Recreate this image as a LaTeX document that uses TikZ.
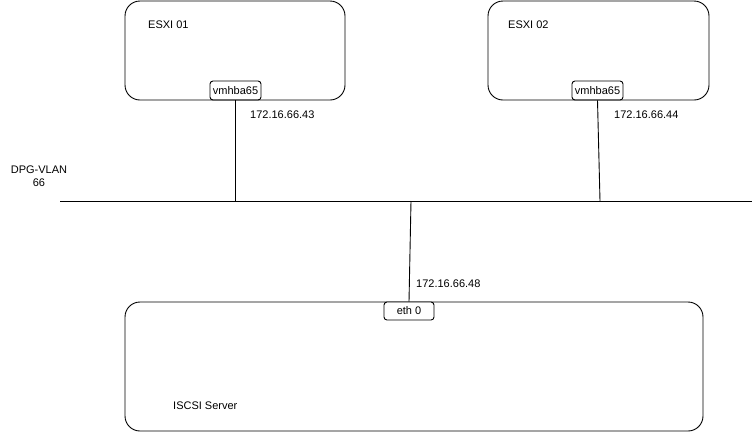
\documentclass[tikz,border=0pt]{standalone}
\usepackage{fontspec}
\setmainfont{Liberation Sans}
\begin{document}
\begin{tikzpicture}[x=1pt,y=-1pt,
  bigbox/.style={draw, line width=0.9pt, rounded corners=15pt, inner sep=0pt},
  portbox/.style={draw, line width=0.9pt, rounded corners=3pt, inner sep=0pt, font=\fontsize{11}{13}\selectfont},
  lbl/.style={inner sep=0pt, font=\fontsize{11}{13}\selectfont},
  wire/.style={line width=0.9pt}]
\useasboundingbox (0,0) rectangle (752,432);
% boxes
\node[bigbox, minimum width=220pt, minimum height=99pt] (esx1) at (235,50.5) {};
\node[bigbox, minimum width=221pt, minimum height=99pt] (esx2) at (598.5,50.5) {};
\node[bigbox, minimum width=578pt, minimum height=129pt] (iscsi) at (414,366.5) {};
\node[portbox, minimum width=51pt, minimum height=19pt] (vm1) at (235.5,90.5) {vmhba65};
\node[portbox, minimum width=51pt, minimum height=19pt] (vm2) at (597.5,90.5) {vmhba65};
\node[portbox, fill=white, minimum width=50pt, minimum height=18pt] (eth) at (409,311) {eth 0};
% bus
\coordinate (busL) at (60,201);
\coordinate (busR) at (752,201);
\coordinate (j1) at (235.5,201);
\coordinate (j2) at (600,201);
\coordinate (j3) at (411,201);
\draw[wire] (busL) -- (busR);
\draw[wire] (vm1.south) -- (j1);
\draw[wire] (vm2.south) -- (j2);
\draw[wire] (eth.north) -- (j3);
% labels
\node[lbl, anchor=west] (l1) at (148,25) {ESXI 01};
\node[lbl, anchor=west] (l2) at (508,25) {ESXI 02};
\node[lbl, anchor=west] (ip1) at (250,115) {172.16.66.43};
\node[lbl, anchor=west] (ip2) at (614,115) {172.16.66.44};
\node[lbl, anchor=west] (ip3) at (416,284) {172.16.66.48};
\node[lbl, anchor=west] (srv) at (173,406) {ISCSI Server};
\node[lbl, align=center] (vlan) at (39,176) {DPG-VLAN\\66};
\end{tikzpicture}
\end{document}
